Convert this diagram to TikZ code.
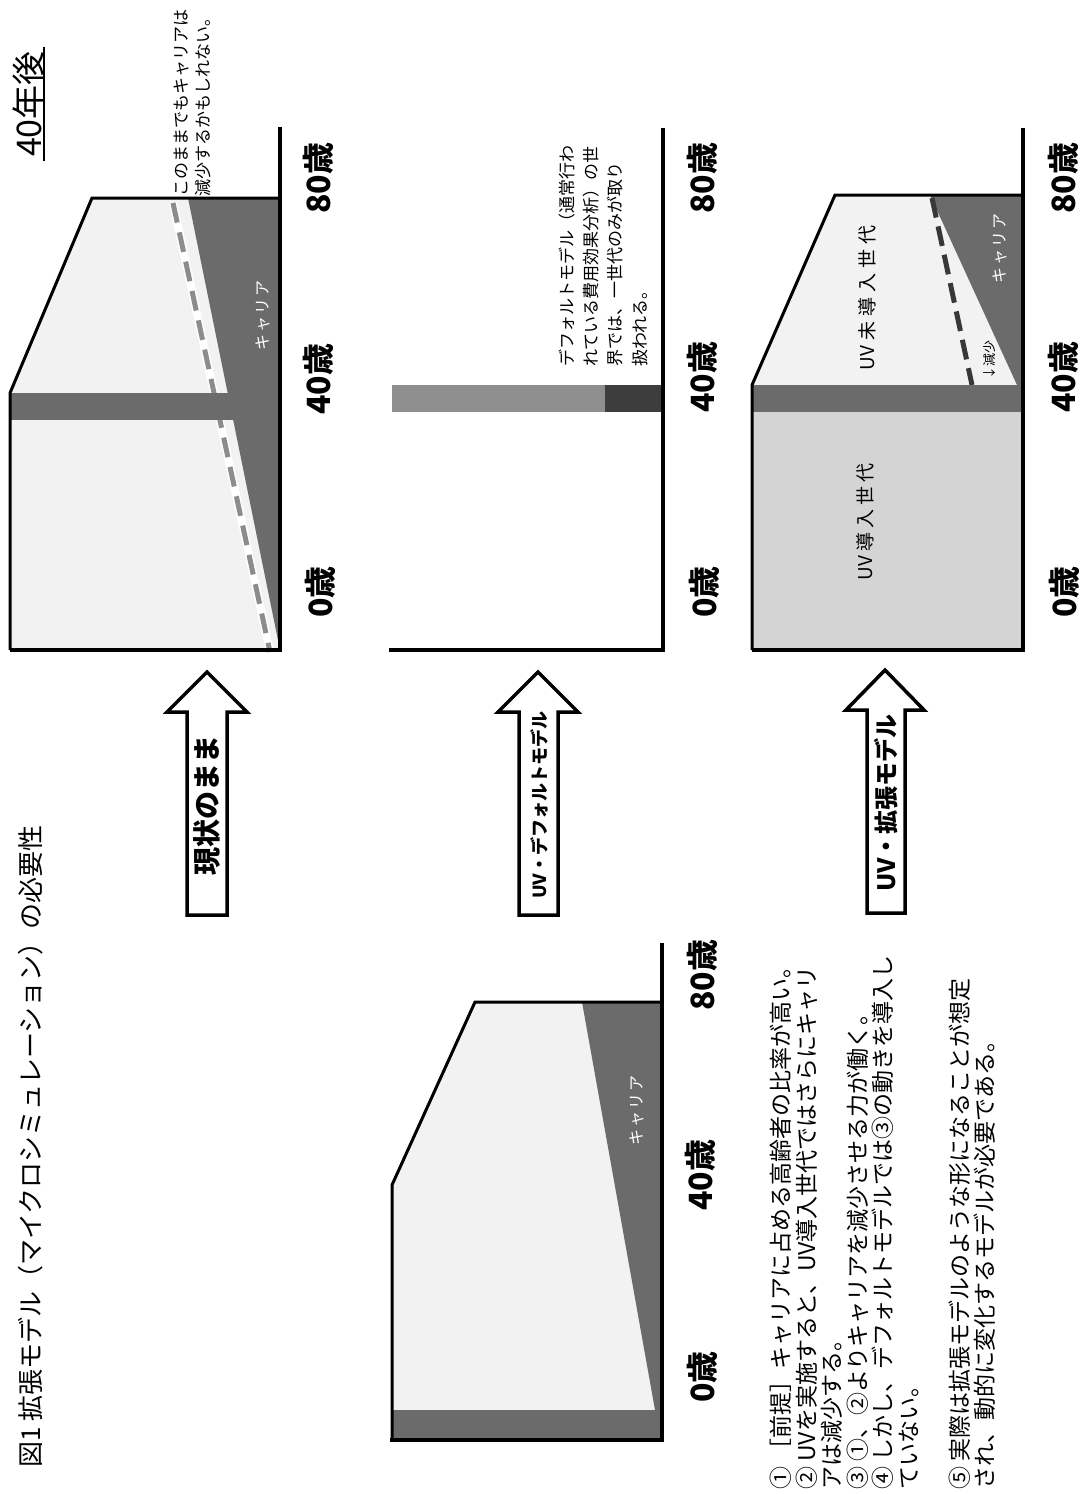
\documentclass[tikz,border=0pt]{standalone}
\usepackage{fontspec}
\newfontfamily\jp{Noto Sans CJK JP}
\definecolor{carr}{gray}{0.42}
\definecolor{lightfill}{gray}{0.95}
\definecolor{midfill}{gray}{0.83}
\definecolor{barlight}{gray}{0.56}
\definecolor{bardark}{gray}{0.24}
\definecolor{dashgray}{gray}{0.55}
\definecolor{dashdark}{gray}{0.22}
\begin{document}
\begin{tikzpicture}[x=1pt,y=-1pt,
  outline/.style={line width=3pt, line join=miter},
  axisline/.style={line width=4.5pt},
  arrowbox/.style={draw=black, fill=white, line width=3.5pt, line join=miter},
  agelbl/.style={rotate=90, inner sep=0pt, font=\jp\bfseries\fontsize{32}{36}\selectfont},
  carrlbl/.style={rotate=90, inner sep=0pt, text=white, font=\jp\fontsize{16}{18}\selectfont},
  genlbl/.style={rotate=90, inner sep=0pt, font=\jp\fontsize{19}{22}\selectfont},
  note/.style={rotate=90, inner sep=0pt, align=left, anchor=north west},
  arrowlbl/.style={rotate=90, inner sep=0pt}
]
\useasboundingbox (0,0) rectangle (1080,1494);
\fill[white] (0,0) rectangle (1080,1494);

% ---------- panel 1 : genjou no mama ----------
\fill[lightfill] (10,650) -- (10,393) -- (92,198) -- (280,198) -- (280,650) -- cycle;
\fill[carr] (188,198) -- (280,198) -- (280,650) -- cycle;
\draw[white, line width=8pt] (173,203) -- (270,652);
\draw[dashgray, line width=5pt, dash pattern=on 20pt off 10pt] (173,203) -- (270,652);
\fill[carr] (10,393) rectangle (280,420);
\draw[outline] (10,650) -- (10,393) -- (92,198) -- (280,198);
\draw[axisline] (10,650) -- (280,650) -- (280,127);

% ---------- panel 2 : default model ----------
\fill[barlight] (392,385) rectangle (605,412);
\fill[bardark] (605,385) rectangle (663,412);
\draw[axisline] (389,650) -- (663,650) -- (663,128);

% ---------- panel 3 : extended model ----------
\fill[midfill] (752,412) rectangle (1023,650);
\fill[lightfill] (752,385) -- (835,195) -- (1023,195) -- (1023,385) -- cycle;
\fill[carr] (930,195) -- (1023,195) -- (1023,385) -- (1017,385) -- cycle;
\draw[dashdark, line width=5pt, dash pattern=on 20pt off 9pt] (932,198) -- (972,385);
\fill[carr] (752,385) rectangle (1023,412);
\draw[outline] (752,650) -- (752,385) -- (835,195) -- (1023,195);
\draw[axisline] (752,650) -- (1023,650) -- (1023,128);

% ---------- bottom panel : present ----------
\fill[lightfill] (392,1440) -- (392,1185) -- (475,1002) -- (662,1002) -- (662,1440) -- cycle;
\fill[carr] (582,1002) -- (662,1002) -- (662,1410) -- (655,1410) -- cycle;
\fill[carr] (392,1410) rectangle (662,1440);
\draw[outline] (392,1440) -- (392,1185) -- (475,1002) -- (662,1002);
\draw[axisline] (390,1440) -- (662,1440) -- (662,943);

% ---------- block arrows ----------
\draw[arrowbox] (187,915) -- (187,712) -- (167,712) -- (207,672) -- (247,712) -- (227,712) -- (227,915) -- cycle;
\draw[arrowbox] (519,915) -- (519,712) -- (498,712) -- (538,672) -- (578,712) -- (558,712) -- (558,915) -- cycle;
\draw[arrowbox] (867,913) -- (867,710) -- (846,710) -- (885,670) -- (924,710) -- (905,710) -- (905,913) -- cycle;
\node[arrowlbl, font=\jp\bfseries\fontsize{28}{30}\selectfont] (a1) at (207,805) {現状のまま};
\node[arrowlbl, font=\jp\bfseries\fontsize{18}{20}\selectfont] (a2) at (539,805) {UV・デフォルトモデル};
\node[arrowlbl, font=\jp\bfseries\fontsize{24}{26}\selectfont] (a3) at (886,803) {UV・拡張モデル};

% ---------- age labels ----------
\node[agelbl] (p1a80) at (318,178) {80歳};
\node[agelbl] (p1a40) at (318,379) {40歳};
\node[agelbl] (p1a0) at (320,592) {0歳};
\node[agelbl] (p2a80) at (702,178) {80歳};
\node[agelbl] (p2a40) at (702,377) {40歳};
\node[agelbl] (p2a0) at (704,592) {0歳};
\node[agelbl] (p3a80) at (1063,178) {80歳};
\node[agelbl] (p3a40) at (1063,377) {40歳};
\node[agelbl] (p3a0) at (1064,592) {0歳};
\node[agelbl] (p4a80) at (702,975) {80歳};
\node[agelbl] (p4a40) at (700,1175) {40歳};
\node[agelbl] (p4a0) at (702,1377) {0歳};

% ---------- inner labels ----------
\node[carrlbl] (c1) at (263,315) {キ\kern2ptャ\kern2ptリ\kern2ptア};
\node[carrlbl] (c3) at (1000,248) {キ\kern2ptャ\kern2ptリ\kern2ptア};
\node[carrlbl] (c4) at (637,1110) {キ\kern2ptャ\kern2ptリ\kern2ptア};
\node[genlbl] (g1) at (867,298) {UV\kern5pt 未\kern5pt 導\kern5pt 入\kern5pt 世\kern5pt 代};
\node[genlbl] (g2) at (865,522) {UV\kern4pt 導\kern4pt 入\kern4pt 世\kern4pt 代};
\node[rotate=90, inner sep=0pt, font=\jp\fontsize{13}{15}\selectfont] (dec) at (990,360) {↓減少};

% ---------- texts ----------
\node[rotate=90, inner sep=0pt, font=\jp\fontsize{34}{38}\selectfont] (t40) at (29,104) {40年後};
\draw[line width=1.6pt] (44,47) -- (44,161);
\node[note, font=\jp\fontsize{17}{22}\selectfont] (n1) at (174,197)
  {このままでもキャリアは\\減少するかもしれない。};
\node[note, font=\jp\fontsize{17}{24.3}\selectfont] (n2) at (558.5,367)
  {デフォルトモデル（通常行わ\\れている費用効果分析）の世\\界では、一世代のみが取り\\扱われる。};
\node[rotate=90, inner sep=0pt, anchor=west, font=\jp\fontsize{26}{30}\selectfont] (title) at (31,1468)
  {図1 拡張モデル（マイクロシミュレーション）の必要性};
\node[note, font=\jp\fontsize{23}{25.5}\selectfont] (notes) at (770,1490)
  {① ［前提］キャリアに占める高齢者の比率が高い。\\
   ② UVを実施すると、UV導入世代ではさらにキャリ\\
   アは減少する。\\
   ③ ①、②よりキャリアを減少させる力が働く。\\
   ④ しかし、デフォルトモデルでは③の動きを導入し\\
   ていない。\\[25.5pt]
   ⑤ 実際は拡張モデルのような形になることが想定\\
   され、動的に変化するモデルが必要である。};
\end{tikzpicture}
\end{document}
